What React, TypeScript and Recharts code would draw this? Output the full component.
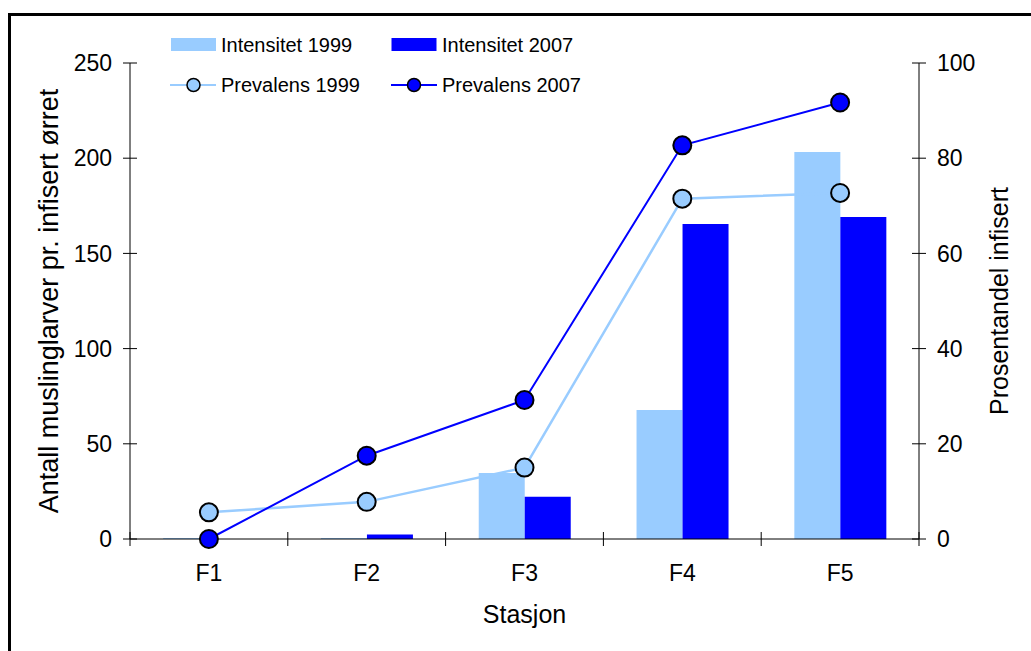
import React from 'react';
import { ComposedChart, Bar, Line, XAxis, YAxis } from 'recharts';

const stations = ['F1', 'F2', 'F3', 'F4', 'F5'];
const intensity1999 = [0.5, 0.5, 34.6, 67.8, 203.3];
const intensity2007 = [0, 2.3, 22.2, 165.4, 169.1];
const prevalence1999 = [5.6, 7.8, 15.0, 71.5, 72.7];
const prevalence2007 = [0, 17.5, 29.2, 82.7, 91.7];
const leftTicks = [0, 50, 100, 150, 200, 250];
const rightTicks = [0, 20, 40, 60, 80, 100];

const LIGHT = '#99CCFF';
const BLUE = '#0000FF';
const FONT = '"Liberation Sans", Arial, sans-serif';

const data = stations.map((s, i) => ({
  name: s,
  i1999: intensity1999[i],
  i2007: intensity2007[i],
  p1999: prevalence1999[i],
  p2007: prevalence2007[i],
}));

const LeftTick = ({ x, y, payload }: any) => (
  <g>
    <line x1={x - 7} x2={x + 7} y1={y} y2={y} stroke="#000" />
    <text x={x - 18} y={y} dy="0.36em" textAnchor="end" fontSize={23} fill="#000" fontFamily={FONT}>
      {payload.value}
    </text>
  </g>
);

const RightTick = ({ x, y, payload }: any) => (
  <g>
    <line x1={x - 7} x2={x + 7} y1={y} y2={y} stroke="#000" />
    <text x={x + 18} y={y} dy="0.36em" textAnchor="start" fontSize={23} fill="#000" fontFamily={FONT}>
      {payload.value}
    </text>
  </g>
);

const BottomTick = ({ x, y, payload, index }: any) => {
  const half = payload.offset || 78.8;
  return (
    <g>
      <line x1={x - half} x2={x - half} y1={y - 7} y2={y + 7} stroke="#000" />
      {index === stations.length - 1 && (
        <line x1={x + half} x2={x + half} y1={y - 7} y2={y + 7} stroke="#000" />
      )}
      <text x={x} y={y + 34} dy="0.36em" textAnchor="middle" fontSize={23} fill="#000" fontFamily={FONT}>
        {payload.value}
      </text>
    </g>
  );
};

const LeftTitle = ({ viewBox }: any) => {
  const cx = viewBox.x + 37.5;
  const cy = viewBox.y + viewBox.height / 2;
  return (
    <text x={cx} y={cy} transform={`rotate(-90 ${cx} ${cy})`} textAnchor="middle" dominantBaseline="central" fontSize={27} fill="#000" fontFamily={FONT}>
      Antall muslinglarver pr. infisert ørret
    </text>
  );
};

const RightTitle = ({ viewBox }: any) => {
  const cx = viewBox.x + 80;
  const cy = viewBox.y + viewBox.height / 2;
  return (
    <text x={cx} y={cy} transform={`rotate(-90 ${cx} ${cy})`} textAnchor="middle" dominantBaseline="central" fontSize={25} fill="#000" fontFamily={FONT}>
      Prosentandel infisert
    </text>
  );
};

const BottomTitle = ({ viewBox }: any) => (
  <text x={viewBox.x + viewBox.width / 2} y={viewBox.y + 75} textAnchor="middle" dominantBaseline="central" fontSize={25} fill="#000" fontFamily={FONT}>
    Stasjon
  </text>
);

const Dot = (color: string) => (props: any) => {
  const { cx, cy, index } = props;
  if (cx == null || cy == null) return <g key={index} />;
  return <circle key={index} cx={cx} cy={cy} r={9} fill={color} stroke="#000" strokeWidth={2} />;
};

function LegendBox() {
  const txt = { fontSize: 20, fill: '#000', fontFamily: FONT } as const;
  return (
    <svg width={480} height={110} style={{ position: 'absolute', left: 130, top: 20 }}>
      <rect x={41} y={18} width={45} height={13} fill={LIGHT} />
      <text x={91} y={24.5} dy="0.36em" {...txt}>Intensitet 1999</text>
      <rect x={261.5} y={18} width={45} height={13} fill={BLUE} />
      <text x={312} y={24.5} dy="0.36em" {...txt}>Intensitet 2007</text>
      <line x1={40} x2={86} y1={65} y2={65} stroke={LIGHT} strokeWidth={2} />
      <circle cx={63.5} cy={65} r={6.5} fill={LIGHT} stroke="#000" strokeWidth={1.5} />
      <text x={91} y={65} dy="0.36em" {...txt}>Prevalens 1999</text>
      <line x1={261} x2={307} y1={65} y2={65} stroke={BLUE} strokeWidth={2} />
      <circle cx={284} cy={65} r={6.5} fill={BLUE} stroke="#000" strokeWidth={1.5} />
      <text x={312} y={65} dy="0.36em" {...txt}>Prevalens 2007</text>
    </svg>
  );
}

export default function App() {
  return (
    <div style={{ position: 'fixed', left: 0, top: 0, width: 1031, height: 651, overflow: 'hidden', background: '#fff' }}>
      <div style={{ position: 'absolute', left: 8, top: 13, width: 1040, height: 660, borderTop: '3px solid #000', borderLeft: '3px solid #000' }} />
      <div style={{ position: 'absolute', left: 11, top: 16 }}>
        <ComposedChart
          width={1020}
          height={620}
          data={data}
          margin={{ top: 47, right: 0, left: 0, bottom: 0 }}
          barCategoryGap="21%"
          barGap={0}
        >
          <XAxis
            dataKey="name"
            height={97}
            axisLine={{ stroke: '#000' }}
            tickLine={false}
            tickSize={0}
            tickMargin={0}
            tick={<BottomTick />}
            interval={0}
            label={<BottomTitle />}
          />
          <YAxis
            yAxisId="left"
            width={119}
            domain={[0, 250]}
            ticks={leftTicks}
            axisLine={{ stroke: '#000' }}
            tickLine={false}
            tickSize={0}
            tickMargin={0}
            tick={<LeftTick />}
            label={<LeftTitle />}
          />
          <YAxis
            yAxisId="right"
            orientation="right"
            width={112}
            domain={[0, 100]}
            ticks={rightTicks}
            axisLine={{ stroke: '#000' }}
            tickLine={false}
            tickSize={0}
            tickMargin={0}
            tick={<RightTick />}
            label={<RightTitle />}
          />
          <Bar yAxisId="left" dataKey="i1999" fill={LIGHT} isAnimationActive={false} />
          <Bar yAxisId="left" dataKey="i2007" fill={BLUE} isAnimationActive={false} />
          <Line yAxisId="right" dataKey="p1999" type="linear" stroke={LIGHT} strokeWidth={2.5} dot={Dot(LIGHT)} activeDot={false} isAnimationActive={false} />
          <Line yAxisId="right" dataKey="p2007" type="linear" stroke={BLUE} strokeWidth={2} dot={Dot(BLUE)} activeDot={false} isAnimationActive={false} />
        </ComposedChart>
      </div>
      <LegendBox />
    </div>
  );
}
